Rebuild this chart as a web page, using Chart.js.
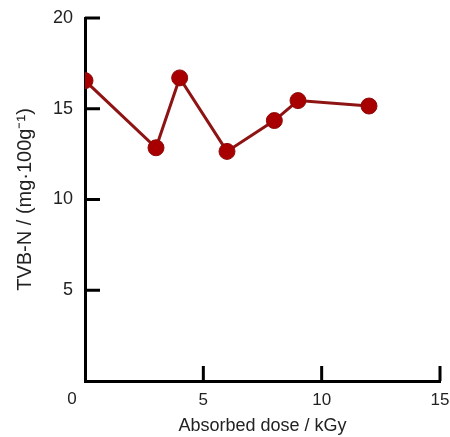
<!DOCTYPE html>
<html>
<head>
<meta charset="utf-8">
<script src="https://cdn.jsdelivr.net/npm/chart.js@4.4.1/dist/chart.umd.min.js"></script>
<style>
  html, body { margin: 0; padding: 0; background: #fff; }
  #wrap { width: 450px; height: 437px; }
</style>
</head>
<body>
<div id="wrap"><canvas id="tvbChart"></canvas></div>
<script>
const doseValues = [0, 3, 4, 6, 8, 9, 12];
const tvbValues = [16.55, 12.85, 16.7, 12.65, 14.35, 15.45, 15.15];
const xTicks = [0, 5, 10, 15];
const yTicks = [0, 5, 10, 15, 20];

const points = doseValues.map((d, i) => ({ x: d, y: tvbValues[i] }));

// ticks point inward, and the shared "0" sits left of the origin
const inwardTicks = {
  id: "inwardTicks",
  afterDraw(chart) {
    const ctx = chart.ctx;
    const xs = chart.scales.x;
    const ys = chart.scales.y;
    const area = chart.chartArea;
    ctx.save();
    ctx.strokeStyle = "#000";
    ctx.lineWidth = 3;
    ctx.beginPath();
    xTicks.slice(1).forEach((t) => {
      const px = xs.getPixelForValue(t);
      ctx.moveTo(px, area.bottom);
      ctx.lineTo(px, area.bottom - 15);
    });
    yTicks.slice(1).forEach((t) => {
      const py = ys.getPixelForValue(t);
      ctx.moveTo(area.left, py);
      ctx.lineTo(area.left + 15, py);
    });
    ctx.stroke();
    ctx.fillStyle = "#222";
    ctx.font = "17px 'Liberation Sans', Arial, sans-serif";
    ctx.textAlign = "center";
    ctx.textBaseline = "middle";
    ctx.fillText("0", xs.getPixelForValue(0) - 13, area.bottom + 18);
    ctx.restore();
  },
};

new Chart(document.getElementById("tvbChart"), {
  type: "scatter",
  data: {
    datasets: [
      {
        data: points,
        showLine: true,
        borderColor: "#8e1414",
        borderWidth: 3,
        pointBackgroundColor: "#a80000",
        pointBorderColor: "#8e0a0a",
        pointBorderWidth: 1,
        pointRadius: 8,
        pointHoverRadius: 8,
      },
    ],
  },
  options: {
    responsive: true,
    maintainAspectRatio: false,
    animation: false,
    layout: { padding: { top: 18, right: 10, left: 0, bottom: 0 } },
    plugins: { legend: { display: false }, tooltip: { enabled: false } },
    scales: {
      x: {
        type: "linear",
        min: 0,
        max: 15,
        afterFit(scale) {
          scale.height = 56;
          scale.paddingRight = 0;
          scale.paddingLeft = 0;
        },
        afterBuildTicks(scale) { scale.ticks = xTicks.map((v) => ({ value: v })); },
        grid: { display: false, drawTicks: false },
        border: { display: true, color: "#000", width: 3 },
        ticks: {
          padding: 9,
          color: "#222",
          font: { family: "'Liberation Sans', Arial, sans-serif", size: 17 },
          callback: (v) => (v === 0 ? "" : v),
        },
        title: {
          display: true,
          text: "Absorbed dose / kGy",
          color: "#222",
          font: { family: "'Liberation Sans', Arial, sans-serif", size: 18 },
          padding: { top: 0, bottom: 0 },
        },
      },
      y: {
        type: "linear",
        min: 0,
        max: 20,
        afterFit(scale) {
          scale.width = 85;
          scale.paddingTop = 0;
          scale.paddingBottom = 0;
        },
        afterBuildTicks(scale) { scale.ticks = yTicks.map((v) => ({ value: v })); },
        grid: { display: false, drawTicks: false },
        border: { display: true, color: "#000", width: 3 },
        ticks: {
          padding: 12,
          color: "#222",
          font: { family: "'Liberation Sans', Arial, sans-serif", size: 18 },
          callback: (v) => (v === 0 ? "" : v),
        },
        title: {
          display: true,
          text: "TVB-N / (mg·100g⁻¹)",
          color: "#222",
          font: { family: "'Liberation Sans', Arial, sans-serif", size: 20 },
          padding: { top: 13, bottom: 0 },
        },
      },
    },
  },
  plugins: [inwardTicks],
});
</script>
</body>
</html>
